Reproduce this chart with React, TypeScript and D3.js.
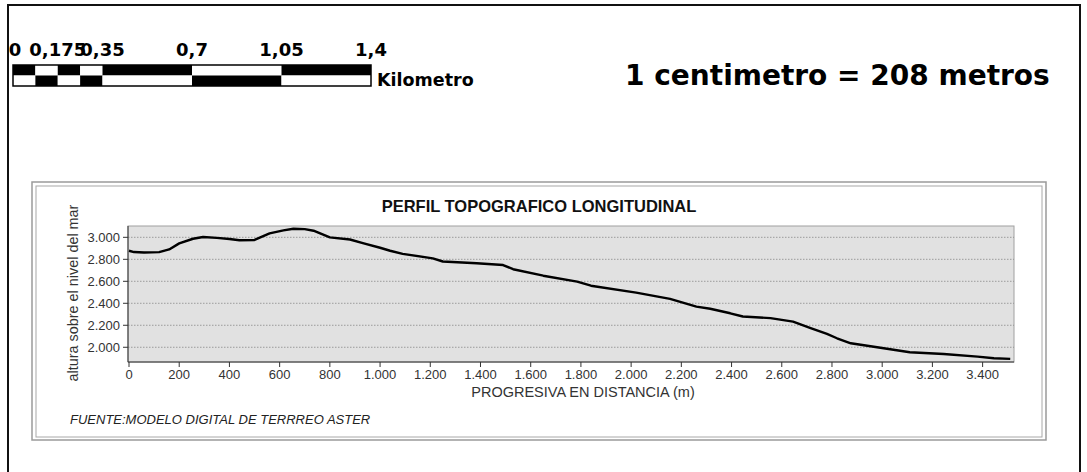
import { useMemo } from 'react';
import * as d3 from 'd3';

const W = 1087;
const H = 472;

// Profile: distance (m) and elevation (m a.s.l.)
const distances = [0, 20, 60, 120, 160, 200, 255, 295, 350, 400, 440, 500, 560, 615, 655, 700, 735, 800, 880, 935, 1000, 1040, 1090, 1210, 1250, 1385, 1490, 1530, 1650, 1785, 1840, 2020, 2155, 2260, 2315, 2395, 2445, 2555, 2645, 2715, 2780, 2820, 2875, 2980, 3110, 3245, 3380, 3445, 3510];
const elevations = [2878, 2866, 2862, 2865, 2890, 2945, 2987, 3003, 2995, 2985, 2973, 2976, 3036, 3063, 3078, 3075, 3060, 3000, 2980, 2945, 2905, 2878, 2850, 2809, 2780, 2764, 2748, 2710, 2651, 2597, 2560, 2497, 2440, 2370, 2350, 2309, 2280, 2265, 2233, 2175, 2121, 2082, 2036, 2000, 1955, 1939, 1915, 1900, 1894];

const xTicks = [0, 200, 400, 600, 800, 1000, 1200, 1400, 1600, 1800, 2000, 2200, 2400, 2600, 2800, 3000, 3200, 3400];
const yTicks = [2000, 2200, 2400, 2600, 2800, 3000];

// graphic scale bar (km)
const barTicks = [0, 0.175, 0.35, 0.7, 1.05, 1.4];
const barTickLabels = ['0', '0,175', '0,35', '0,7', '1,05', '1,4'];
const barSegments = [0, 0.0875, 0.175, 0.2625, 0.35, 0.7, 1.05, 1.4];

const fmt = (v: number) => v.toLocaleString('de-DE');

const PLOT = { left: 128, right: 1014, top: 226, bottom: 362 };

export default function App() {
  const x = useMemo(() => d3.scaleLinear().domain([-4, 3525]).range([PLOT.left, PLOT.right]), []);
  const y = useMemo(() => d3.scaleLinear().domain([1866, 3103]).range([PLOT.bottom, PLOT.top]), []);
  const bar = useMemo(() => d3.scaleLinear().domain([0, 1.4]).range([13, 371]), []);

  const points = distances.map((d, i) => [d, elevations[i]] as [number, number]);
  const line = d3.line<[number, number]>().x(d => x(d[0])).y(d => y(d[1]));

  const sans = 'Arial, "Liberation Sans", sans-serif';
  const bold = 'Tahoma, "DejaVu Sans", Verdana, sans-serif';

  return (
    <svg width={W} height={H} style={{ position: 'absolute', left: 0, top: 0, background: '#fff' }}>
      {/* outer map frame */}
      <rect x={8} y={5} width={1072} height={H + 10} fill="#fff" stroke="#111" strokeWidth={2} />

      {/* scale bar */}
      <g>
        {barSegments.slice(0, -1).map((s, i) => {
          const x0 = bar(s);
          const x1 = bar(barSegments[i + 1]);
          const topBlack = i % 2 === 0;
          return (
            <g key={i}>
              <rect x={x0} y={65} width={x1 - x0} height={10.5} fill={topBlack ? '#000' : '#fff'} />
              <rect x={x0} y={75.5} width={x1 - x0} height={10.5} fill={topBlack ? '#fff' : '#000'} />
            </g>
          );
        })}
        <rect x={bar(0)} y={65} width={bar(1.4) - bar(0)} height={21} fill="none" stroke="#000" strokeWidth={1.5} />
        {barTicks.map((t, i) => (
          <text key={t} x={bar(t) + (i === 0 ? 2 : 0)} y={56} textAnchor="middle" fontFamily={bold} fontWeight="bold" fontSize={18} fill="#000">
            {barTickLabels[i]}
          </text>
        ))}
        <text x={377} y={86} fontFamily={bold} fontWeight="bold" fontSize={17.5} fill="#000">Kilometro</text>
      </g>

      <text x={625} y={85} fontFamily={bold} fontWeight="bold" fontSize={28} fill="#000">1 centimetro = 208 metros</text>

      {/* chart panel with double border */}
      <rect x={32} y={182} width={1014} height={258} fill="#fff" stroke="#9a9a9a" strokeWidth={1.5} />
      <rect x={36} y={186} width={1006} height={251} fill="#fff" stroke="#a8a8a8" strokeWidth={1} />

      <text x={539} y={212} textAnchor="middle" fontFamily={sans} fontWeight="bold" fontSize={16.5} fill="#111">
        PERFIL TOPOGRAFICO LONGITUDINAL
      </text>

      {/* plot area */}
      <rect x={PLOT.left} y={PLOT.top} width={PLOT.right - PLOT.left} height={PLOT.bottom - PLOT.top} fill="#e1e1e1" stroke="#a0a0a0" strokeWidth={1} />
      {yTicks.map(t => (
        <line key={t} x1={PLOT.left} x2={PLOT.right} y1={y(t)} y2={y(t)} stroke="#8a8a8a" strokeWidth={0.8} strokeDasharray="1.5,1.5" />
      ))}
      <line x1={PLOT.left} x2={PLOT.left} y1={PLOT.top} y2={PLOT.bottom} stroke="#333" strokeWidth={1} />
      <line x1={PLOT.left} x2={PLOT.right} y1={PLOT.bottom} y2={PLOT.bottom} stroke="#333" strokeWidth={1} />

      <path d={line(points) ?? ''} fill="none" stroke="#000" strokeWidth={2.4} strokeLinejoin="round" />

      {yTicks.map(t => (
        <g key={t}>
          <line x1={PLOT.left - 5} x2={PLOT.left} y1={y(t)} y2={y(t)} stroke="#333" />
          <text x={PLOT.left - 8} y={y(t) + 4.5} textAnchor="end" fontFamily={sans} fontSize={13} fill="#333">{fmt(t)}</text>
        </g>
      ))}
      {xTicks.map(t => (
        <g key={t}>
          <line x1={x(t)} x2={x(t)} y1={PLOT.bottom} y2={PLOT.bottom + 5} stroke="#333" />
          <text x={x(t)} y={379} textAnchor="middle" fontFamily={sans} fontSize={13} fill="#333">{fmt(t)}</text>
        </g>
      ))}

      <text x={583} y={397} textAnchor="middle" fontFamily={sans} fontSize={14.5} fill="#333">PROGRESIVA EN DISTANCIA (m)</text>
      <text transform="translate(78,293) rotate(-90)" textAnchor="middle" fontFamily={sans} fontSize={14.4} fill="#333">
        altura sobre el nivel del mar
      </text>

      <text x={70} y={424} fontFamily={sans} fontStyle="italic" fontSize={13} fill="#222">
        FUENTE:MODELO DIGITAL DE TERRREO ASTER
      </text>
    </svg>
  );
}
